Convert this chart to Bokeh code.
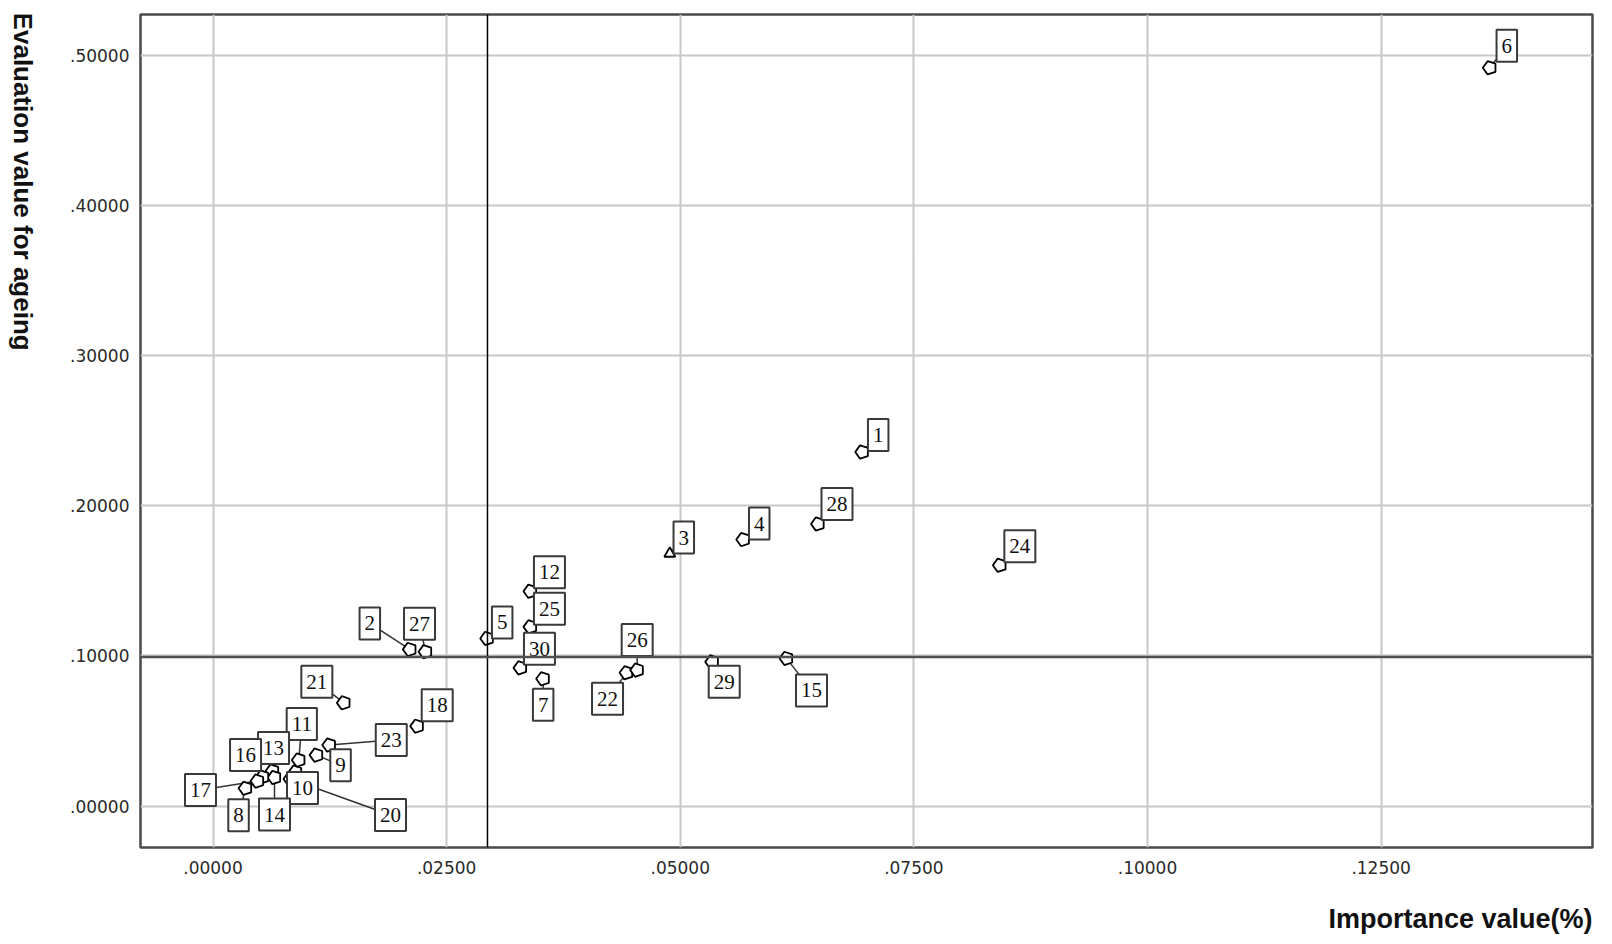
import math
from bokeh.plotting import figure
from bokeh.layouts import row, column
from bokeh.models import Range1d, FixedTicker, Span, ColumnDataSource, Label
from bokeh.core.properties import value
from bokeh.embed import file_html
from bokeh.resources import INLINE

# ---------------- data ----------------
ids = [1, 2, 3, 4, 5, 6, 7, 8, 9, 10, 11, 12, 13, 14, 15, 16, 17, 18,
       20, 21, 22, 23, 24, 25, 26, 27, 28, 29, 30]
importance = [0.06947, 0.02106, 0.04888, 0.05674, 0.02934, 0.13663, 0.03533,
              0.00348, 0.01108, 0.00883, 0.00918, 0.03397, 0.00637, 0.00658,
              0.06137, 0.00530, 0.00476, 0.02185,
              0.00829, 0.01400, 0.04425, 0.01244, 0.08420, 0.03397, 0.04539,
              0.02274, 0.06474, 0.05342, 0.03290]
evaluation = [0.2357, 0.1043, 0.1681, 0.1774, 0.1116, 0.4915, 0.0847,
              0.0118, 0.0339, 0.0226, 0.0306, 0.1430, 0.0233, 0.0190,
              0.0983, 0.0193, 0.0166, 0.0532,
              0.0180, 0.0687, 0.0887, 0.0406, 0.1603, 0.1193, 0.0905,
              0.1027, 0.1878, 0.0960, 0.0920]
marker_kind = ["pentagon"] * len(ids)
marker_kind[ids.index(3)] = "triangle"

x_ticks = [0.0, 0.025, 0.05, 0.075, 0.10, 0.125]
x_tick_labels = [".00000", ".02500", ".05000", ".07500", ".10000", ".12500"]
y_ticks = [0.0, 0.1, 0.2, 0.3, 0.4, 0.5]
y_tick_labels = [".00000", ".10000", ".20000", ".30000", ".40000", ".50000"]

x_reference = 0.02937
y_reference = 0.0992

x_title = "Importance value(%)"
y_title = "Evaluation value for ageing"

# ---------------- layout (screen pixel offsets of the label boxes) ----------------
label_offsets = {
    1: (16, -17), 2: (-40, -26), 3: (14, -16), 4: (16, -16), 5: (15, -16),
    6: (17, -22), 7: (0, 26), 8: (-7, 27), 9: (24, 10), 10: (7, 16),
    11: (3, -36), 12: (19, -19), 13: (1, -23), 14: (0, 37), 15: (25, 32),
    16: (-17, -22), 17: (-57, 9), 18: (20, -21), 20: (100, 36), 21: (-27, -21),
    22: (-19, 26), 23: (62, -5), 24: (20, -19), 25: (19, -18), 26: (0, -30),
    27: (-6, -28), 28: (19, -20), 29: (12, 20), 30: (19, -19),
}

X_MIN, X_MAX = -0.00776, 0.14762
Y_MIN, Y_MAX = -0.0276, 0.527
FW, FH = 1452, 833
TOTAL_W, TOTAL_H = 1604, 936
TITLE_W = 44
B_LEFT, B_RIGHT, B_TOP, B_BOTTOM = 140 - TITLE_W, 12, 14, 40
PLOT_H = B_TOP + FH + B_BOTTOM
XT_H = TOTAL_H - PLOT_H
SX = FW / (X_MAX - X_MIN)
SY = FH / (Y_MAX - Y_MIN)


def strip(w, h):
    f = figure(width=w, height=h, x_range=Range1d(0, w), y_range=Range1d(0, h),
               x_axis_location=None, y_axis_location=None,
               min_border=0, min_border_left=0, min_border_right=0,
               min_border_top=0, min_border_bottom=0,
               output_backend="svg", toolbar_location=None,
               background_fill_color="white", border_fill_color="white")
    f.outline_line_color = None
    f.grid.visible = False
    return f


# strip carrying the vertical y-axis title (reads top to bottom)
ytitle_fig = strip(TITLE_W, PLOT_H)
ytitle_fig.add_layout(Label(x=22, y=PLOT_H - 13 + 15, text=y_title,
                            angle=-math.pi / 2, text_align="left",
                            text_baseline="middle",
                            text_font="Liberation Sans", text_font_style="bold",
                            text_font_size="26px", text_color="#111111"))

# strip carrying the x-axis title (right-aligned)
xtitle_fig = strip(TOTAL_W, XT_H)
xtitle_fig.add_layout(Label(x=1592, y=XT_H - (918 - PLOT_H), text=x_title,
                            text_align="right", text_baseline="middle",
                            text_font="Liberation Sans", text_font_style="bold",
                            text_font_size="27px", text_color="#111111"))

p = figure(width=TOTAL_W - TITLE_W, height=PLOT_H,
           x_range=Range1d(X_MIN, X_MAX), y_range=Range1d(Y_MIN, Y_MAX),
           min_border_left=B_LEFT, min_border_right=B_RIGHT,
           min_border_top=B_TOP, min_border_bottom=B_BOTTOM,
           output_backend="svg", toolbar_location=None,
           background_fill_color="white", border_fill_color="white")

for ax, ticks, labels in ((p.xaxis, x_ticks, x_tick_labels),
                          (p.yaxis, y_ticks, y_tick_labels)):
    ax.ticker = FixedTicker(ticks=ticks)
    ax.major_label_overrides = {t: l for t, l in zip(ticks, labels)}
    ax.axis_line_color = None
    ax.major_tick_line_color = None
    ax.major_tick_out = 0
    ax.major_tick_in = 0
    ax.minor_tick_line_color = None
    ax.minor_tick_out = 0
    ax.major_label_text_font = "DejaVu Sans"
    ax.major_label_text_font_size = "17px"
    ax.major_label_text_color = "#2a2a2a"
p.xaxis.major_label_standoff = 13
p.yaxis.major_label_standoff = 11

p.xgrid.ticker = FixedTicker(ticks=x_ticks)
p.ygrid.ticker = FixedTicker(ticks=y_ticks)
p.grid.grid_line_color = "#c8c8c8"
p.grid.grid_line_width = 2

p.outline_line_color = "#4a4a4a"
p.outline_line_width = 2.5

p.add_layout(Span(location=x_reference, dimension="height",
                  line_color="black", line_width=1.5))
p.add_layout(Span(location=y_reference, dimension="width",
                  line_color="#505050", line_width=2.5))

dx = [label_offsets[i][0] for i in ids]
dy = [label_offsets[i][1] for i in ids]
src = ColumnDataSource(dict(
    x=importance, y=evaluation, txt=[str(i) for i in ids], dx=dx, dy=dy,
    lx=[x + o / SX for x, o in zip(importance, dx)],
    ly=[y - o / SY for y, o in zip(evaluation, dy)],
))

# leader lines
p.segment(x0="x", y0="y", x1="lx", y1="ly", source=src,
          line_color="#333333", line_width=1.5)

pent_idx = [k for k, m in enumerate(marker_kind) if m == "pentagon"]
tri_idx = [k for k, m in enumerate(marker_kind) if m == "triangle"]
pent = ColumnDataSource(dict(x=[importance[k] for k in pent_idx],
                             y=[evaluation[k] for k in pent_idx]))
tri = ColumnDataSource(dict(x=[importance[k] for k in tri_idx],
                            y=[evaluation[k] for k in tri_idx]))
try:
    p.ngon(x="x", y="y", radius=7, radius_units="screen", n=5,
           angle=math.pi / 2, source=pent,
           fill_color="white", line_color="black", line_width=1.8)
except Exception:
    p.scatter(x="x", y="y", marker="hex", size=13, source=pent,
              fill_color="white", line_color="black", line_width=1.8)
p.scatter(x="x", y="y", marker="triangle", size=11, source=tri,
          fill_color="white", line_color="black", line_width=1.8)

# label boxes
p.text(x="x", y="y", text="txt", x_offset="dx", y_offset="dy", source=src,
       text_font=value("Liberation Serif"), text_font_size="21px",
       text_color="#111111", text_align="center", text_baseline="middle",
       background_fill_color="white", border_line_color="#3a3a3a",
       border_line_width=2, padding=(5, 9))

layout = column(row(ytitle_fig, p, spacing=0), xtitle_fig, spacing=0)
open("out.html", "w").write(file_html(layout, INLINE))
